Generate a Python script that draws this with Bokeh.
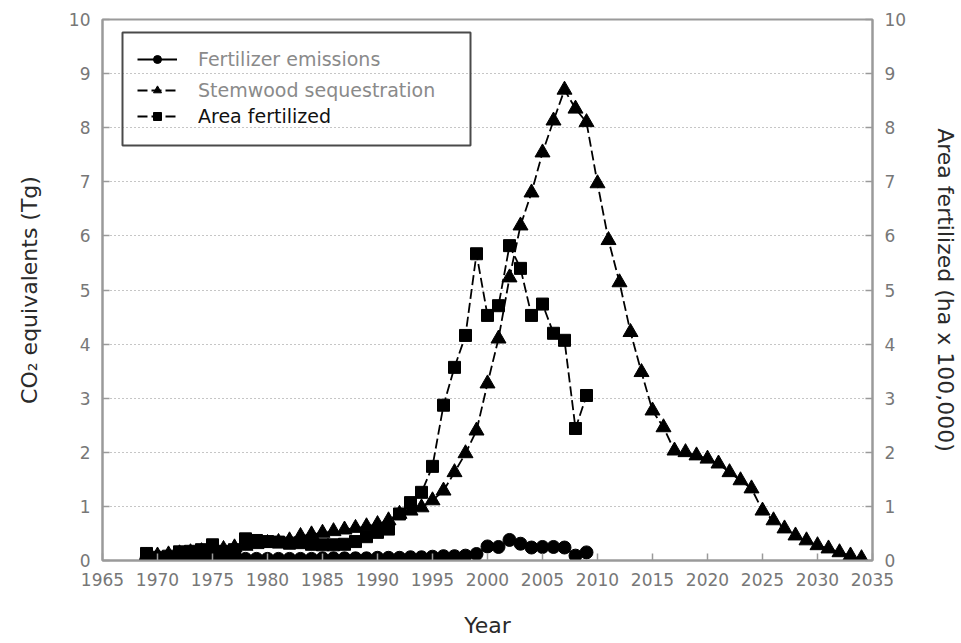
from bokeh.plotting import figure
from bokeh.models import (Range1d, LinearAxis, FixedTicker, Legend, LegendItem,
                          BoxAnnotation)
from bokeh.embed import file_html
from bokeh.resources import INLINE

# ---- data -------------------------------------------------------------
fert_years = [1969, 1970, 1971, 1972, 1973, 1974, 1975, 1976, 1977, 1978,
              1979, 1980, 1981, 1982, 1983, 1984, 1985, 1986, 1987, 1988,
              1989, 1990, 1991, 1992, 1993, 1994, 1995, 1996, 1997, 1998,
              1999, 2000, 2001, 2002, 2003, 2004, 2005, 2006, 2007, 2008, 2009]

# Fertilizer emissions, Tg CO2 equivalents
fert_emissions = [0.03, 0.03, 0.03, 0.03, 0.03, 0.03, 0.03, 0.03, 0.03, 0.03,
                  0.03, 0.03, 0.03, 0.03, 0.03, 0.03, 0.04, 0.04, 0.04, 0.04,
                  0.04, 0.05, 0.05, 0.05, 0.06, 0.06, 0.07, 0.08, 0.08, 0.09,
                  0.12, 0.26, 0.25, 0.38, 0.31, 0.24, 0.25, 0.25, 0.24, 0.09, 0.15]

# Area fertilized, ha x 100,000
area_fertilized = [0.13, 0.06, 0.08, 0.16, 0.17, 0.20, 0.29, 0.17, 0.20, 0.40,
                   0.37, 0.35, 0.34, 0.32, 0.33, 0.30, 0.29, 0.29, 0.30, 0.35,
                   0.44, 0.52, 0.58, 0.86, 1.07, 1.26, 1.74, 2.87, 3.57, 4.16,
                   5.67, 4.53, 4.71, 5.82, 5.40, 4.53, 4.74, 4.20, 4.07, 2.44, 3.05]

stem_years = [1969, 1970, 1971, 1972, 1973, 1974, 1975, 1976, 1977, 1978,
              1979, 1980, 1981, 1982, 1983, 1984, 1985, 1986, 1987, 1988,
              1989, 1990, 1991, 1992, 1993, 1994, 1995, 1996, 1997, 1998,
              1999, 2000, 2001, 2002, 2003, 2004, 2005, 2006, 2007, 2008,
              2009, 2010, 2011, 2012, 2013, 2014, 2015, 2016, 2017, 2018,
              2019, 2020, 2021, 2022, 2023, 2024, 2025, 2026, 2027, 2028,
              2029, 2030, 2031, 2032, 2033, 2034]

# Stemwood sequestration, Tg CO2 equivalents
stem_sequestration = [0.08, 0.09, 0.11, 0.13, 0.15, 0.17, 0.19, 0.21, 0.24, 0.27,
                      0.30, 0.32, 0.34, 0.37, 0.45, 0.48, 0.51, 0.54, 0.57, 0.60,
                      0.63, 0.67, 0.74, 0.86, 0.92, 0.98, 1.11, 1.29, 1.63, 1.98,
                      2.40, 3.27, 4.10, 5.23, 6.19, 6.80, 7.54, 8.13, 8.70, 8.35,
                      8.10, 6.97, 5.92, 5.14, 4.22, 3.48, 2.77, 2.46, 2.03, 2.00,
                      1.94, 1.88, 1.79, 1.63, 1.48, 1.33, 0.92, 0.74, 0.59, 0.46,
                      0.37, 0.28, 0.22, 0.15, 0.09, 0.04]

year_ticks = [1965, 1970, 1975, 1980, 1985, 1990, 1995, 2000,
              2005, 2010, 2015, 2020, 2025, 2030, 2035]
value_ticks = [0, 1, 2, 3, 4, 5, 6, 7, 8, 9, 10]

# ---- figure -----------------------------------------------------------
FONT = "DejaVu Sans"
FRAME = "#9a9a9a"

p = figure(width=961, height=643, output_backend="svg", toolbar_location=None,
           x_range=Range1d(1965, 2035), y_range=Range1d(0, 10),
           min_border_left=102, min_border_right=88,
           min_border_top=19, min_border_bottom=83,
           background_fill_color="white", border_fill_color="white")
p.extra_y_ranges = {"area": Range1d(0, 10)}

p.outline_line_color = FRAME
p.outline_line_width = 2

p.xgrid.visible = False
p.ygrid.ticker = FixedTicker(ticks=value_ticks)
p.ygrid.grid_line_color = "#8c8c8c"
p.ygrid.grid_line_dash = "1 3"
p.ygrid.grid_line_width = 1

right_axis = LinearAxis(y_range_name="area")
p.add_layout(right_axis, "right")

p.xaxis.ticker = FixedTicker(ticks=year_ticks)
p.xaxis.axis_label = "Year"
p.yaxis.ticker = FixedTicker(ticks=value_ticks)
p.yaxis[0].axis_label = "CO\u2082 equivalents (Tg)"
right_axis.axis_label = "Area fertilized (ha x 100,000)"

for ax in p.xaxis + p.yaxis:
    ax.axis_line_color = FRAME
    ax.axis_line_width = 2
    ax.major_tick_line_color = FRAME
    ax.major_tick_line_width = 1.5
    ax.major_tick_in = 7
    ax.major_tick_out = 0
    ax.minor_tick_line_color = None
    ax.major_label_text_font = FONT
    ax.major_label_text_font_size = "17px"
    ax.major_label_text_color = "#777777"
    ax.axis_label_text_font = FONT
    ax.axis_label_text_font_size = "22px"
    ax.axis_label_text_font_style = "normal"
    ax.axis_label_text_color = "#2a2a2a"

p.xaxis.major_label_standoff = 12
p.xaxis.axis_label_standoff = 24
for ax in p.yaxis:
    ax.major_label_standoff = 12
    ax.axis_label_standoff = 24

# ---- series -----------------------------------------------------------
DASH = "10 4"

fert_line = p.line(fert_years, fert_emissions, line_color="black", line_width=1.8)
fert_pts = p.scatter(fert_years, fert_emissions, marker="circle", size=13,
                     fill_color="black", line_color="black")

stem_line = p.line(stem_years, stem_sequestration, line_color="black",
                   line_width=1.8, line_dash=DASH)
stem_pts = p.scatter(stem_years, stem_sequestration, marker="triangle", size=15,
                     fill_color="black", line_color="black")

area_line = p.line(fert_years, area_fertilized, line_color="black", line_width=1.8,
                   line_dash=DASH, y_range_name="area")
area_pts = p.scatter(fert_years, area_fertilized, marker="square", size=12,
                     fill_color="black", line_color="black", y_range_name="area")

# ---- legend -----------------------------------------------------------
legend_style = dict(padding=0, margin=0, glyph_width=40, glyph_height=20,
                    label_height=20, label_standoff=21,
                    label_text_font=FONT, label_text_font_size="19px",
                    border_line_color=None, background_fill_alpha=0)

legend_main = Legend(items=[
    LegendItem(label="Fertilizer emissions", renderers=[fert_line, fert_pts]),
    LegendItem(label="Stemwood sequestration", renderers=[stem_line, stem_pts]),
], location=(35, 459), spacing=9, label_text_color="#8a8a8a", **legend_style)

legend_area = Legend(items=[
    LegendItem(label="Area fertilized", renderers=[area_line, area_pts]),
], location=(35, 433), label_text_color="#111111", **legend_style)

p.add_layout(legend_main)
p.add_layout(legend_area)

legend_frame = BoxAnnotation(left=122, right=470, top=32, bottom=145,
                             left_units="canvas", right_units="canvas",
                             top_units="canvas", bottom_units="canvas",
                             fill_color=None, line_color="#4a4a4a", line_width=2,
                             line_alpha=1)
p.add_layout(legend_frame)

open("out.html", "w").write(file_html(p, INLINE))
